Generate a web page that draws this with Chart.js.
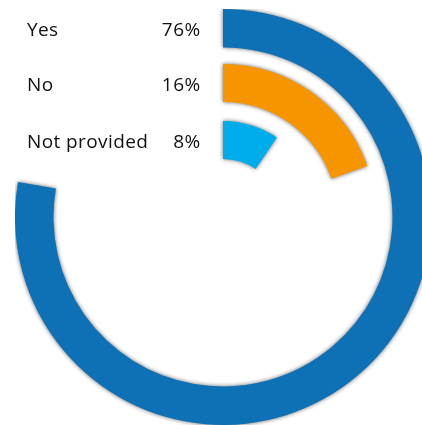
<!DOCTYPE html>
<html><head><meta charset="utf-8">
<script src="https://cdn.jsdelivr.net/npm/chart.js@4"></script>
<style>
html,body{margin:0;padding:0;overflow:hidden;background:#fff;width:422px;height:425px}
#wrap{position:absolute;left:15px;top:9px;width:416px;height:416px}
</style></head>
<body><div id="wrap"><canvas id="c" width="416" height="416"></canvas></div>
<script>
// ---- data ----
const categories = ['Yes', 'No', 'Not provided'];
const percentLabels = ['76%', '16%', '8%'];
const arcShares = [77.7, 19.6, 9.5];   // share of the full circle swept by each arc, as drawn
// ---- styles ----
const colors = ['#0e70b5', '#f79500', '#00adeb'];
const ringWeights = [38.5, 38, 38];
const gapWeights = [16.5, 19];

const datasets = [];
categories.forEach((cat, i) => {
  datasets.push({
    label: cat,
    data: [arcShares[i], 100 - arcShares[i]],
    backgroundColor: [colors[i], 'rgba(0,0,0,0)'],
    borderWidth: 0,
    hoverOffset: 0,
    weight: ringWeights[i],
    _real: true
  });
  if (i < gapWeights.length) {
    datasets.push({
      label: 'gap' + i,
      data: [1],
      backgroundColor: ['rgba(0,0,0,0)'],
      borderWidth: 0,
      hoverOffset: 0,
      weight: gapWeights[i]
    });
  }
});

const shadowPlugin = {
  id: 'shadow',
  beforeDatasetsDraw(chart) {
    const ctx = chart.ctx;
    ctx.save();
    ctx.shadowColor = 'rgba(0,0,0,0.6)';
    ctx.shadowBlur = 4;
    ctx.shadowOffsetX = 0;
    ctx.shadowOffsetY = 0;
  },
  afterDatasetsDraw(chart) {
    chart.ctx.restore();
  }
};

const labelPlugin = {
  id: 'ringLabels',
  afterDraw(chart) {
    const ctx = chart.ctx;
    ctx.save();
    ctx.font = '19px "Open Sans"';
    ctx.fillStyle = '#111111';
    ctx.textBaseline = 'alphabetic';
    let k = 0;
    chart.data.datasets.forEach((ds, di) => {
      if (!ds._real) return;
      const arc = chart.getDatasetMeta(di).data[0];
      const y = arc.y - (arc.outerRadius + arc.innerRadius) / 2 + 7.5;
      ctx.letterSpacing = '0.4px';
      ctx.textAlign = 'left';
      ctx.fillText(categories[k], 12, y);
      ctx.textAlign = 'right';
      ctx.fillText(percentLabels[k], arc.x - 22.5, y);
      k++;
    });
    ctx.restore();
  }
};

new Chart(document.getElementById('c'), {
  type: 'doughnut',
  data: { labels: ['value', 'rest'], datasets },
  options: {
    responsive: false,
    animation: false,
    cutout: 58,
    rotation: 0,
    circumference: 360,
    layout: { padding: 0 },
    plugins: { legend: { display: false }, tooltip: { enabled: false } },
    events: []
  },
  plugins: [shadowPlugin, labelPlugin]
});
</script>
</body></html>
